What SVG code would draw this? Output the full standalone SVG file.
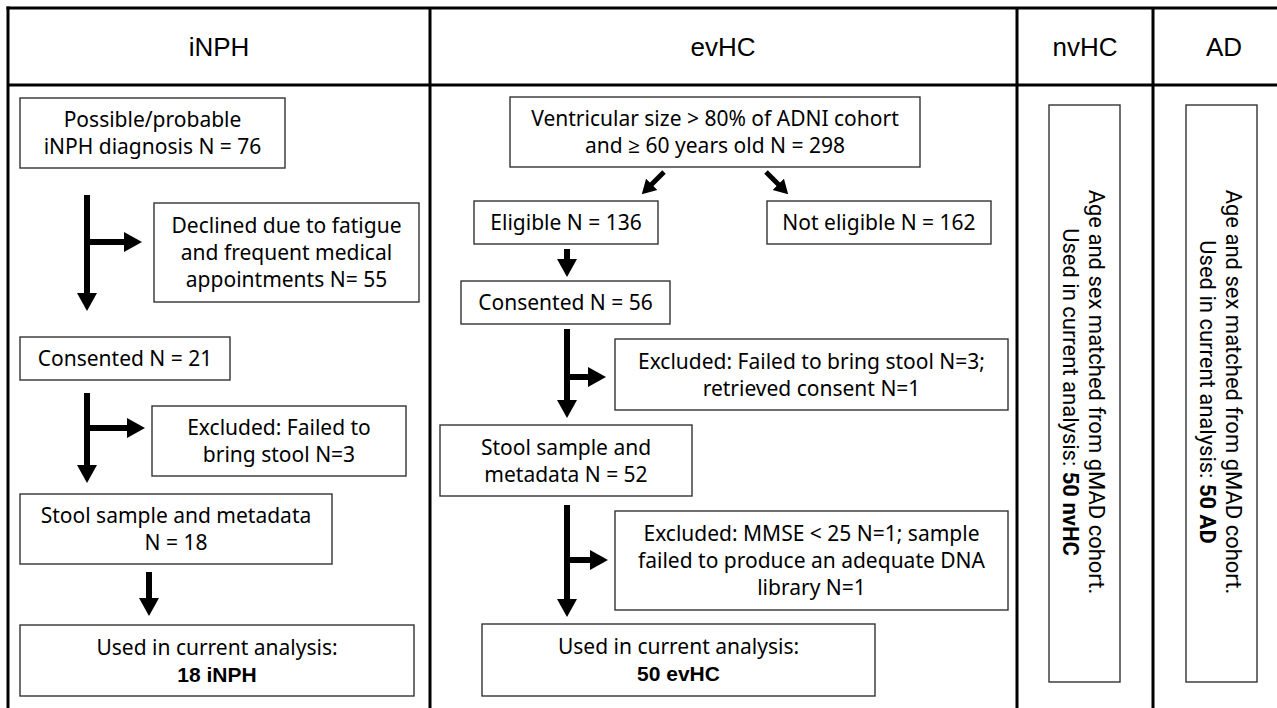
<svg xmlns="http://www.w3.org/2000/svg" width="1277" height="708" viewBox="0 0 1277 708">
<style>
.frame{stroke:#000;stroke-width:3;fill:none}
.box{fill:#fff;stroke:#333;stroke-width:1.4}
.hd{font-family:"Liberation Sans",Arial,sans-serif;font-size:26px;text-anchor:middle;fill:#000}
.t{font-family:"Noto Sans","Open Sans",sans-serif;font-size:21px;text-anchor:middle;fill:#000}
.bd{font-family:"Liberation Sans",Arial,sans-serif;font-weight:bold}
.rt{font-family:Roboto,"Liberation Sans",sans-serif;font-size:22px;text-anchor:middle;fill:#000}
.rb{font-weight:bold}
.sh{stroke:#000;stroke-width:6;fill:none}
.sh2{stroke:#000;stroke-width:5;fill:none}
</style>
<defs>
<marker id="ah" markerUnits="userSpaceOnUse" markerWidth="20" markerHeight="22" refX="1" refY="11" orient="auto">
<path d="M0,1 L18,11 L0,21 Z" fill="#000"/>
</marker>
<marker id="ahs" markerUnits="userSpaceOnUse" markerWidth="16" markerHeight="18" refX="1" refY="9" orient="auto">
<path d="M0,1 L14,9 L0,17 Z" fill="#000"/>
</marker>
</defs>
<rect width="1277" height="708" fill="#fff"/>
<g id="frame">
<line class="frame" x1="6.5" y1="8" x2="1277" y2="8"/>
<line class="frame" x1="8" y1="85" x2="1277" y2="85"/>
<line class="frame" x1="8" y1="6.5" x2="8" y2="708"/>
<line class="frame" x1="430" y1="8" x2="430" y2="708"/>
<line class="frame" x1="1017" y1="8" x2="1017" y2="708"/>
<line class="frame" x1="1153" y1="8" x2="1153" y2="708"/>
<text class="hd" x="219" y="56">iNPH</text>
<text class="hd" x="723" y="56">evHC</text>
<text class="hd" x="1085" y="56">nvHC</text>
<text class="hd" x="1224" y="56">AD</text>
</g>
<g id="connectors">
<line class="sh" x1="87" y1="195" x2="87" y2="294" marker-end="url(#ah)"/>
<line class="sh" x1="87" y1="242" x2="125" y2="242" marker-end="url(#ah)"/>
<line class="sh" x1="87" y1="393" x2="87" y2="466" marker-end="url(#ah)"/>
<line class="sh" x1="87" y1="428" x2="128" y2="428" marker-end="url(#ah)"/>
<line class="sh" x1="149" y1="572" x2="149" y2="599" marker-end="url(#ah)"/>
<line class="sh2" x1="664" y1="172" x2="651" y2="185" marker-end="url(#ahs)"/>
<line class="sh2" x1="766" y1="172" x2="779" y2="185" marker-end="url(#ahs)"/>
<line class="sh" x1="567" y1="249" x2="567" y2="260" marker-end="url(#ah)"/>
<line class="sh" x1="567" y1="329" x2="567" y2="401" marker-end="url(#ah)"/>
<line class="sh" x1="567" y1="377" x2="589" y2="377" marker-end="url(#ah)"/>
<line class="sh" x1="567" y1="505" x2="567" y2="600" marker-end="url(#ah)"/>
<line class="sh" x1="567" y1="560" x2="591" y2="560" marker-end="url(#ah)"/>
</g>
<g id="inph1"><rect class="box" x="20" y="98" width="265" height="70"/>
<text class="t" x="152.5" y="127">Possible/probable</text><text class="t" x="152.5" y="154">iNPH diagnosis N = 76</text></g>
<g id="inph2"><rect class="box" x="154" y="203" width="265" height="99"/>
<text class="t" x="286.5" y="233">Declined due to fatigue</text><text class="t" x="286.5" y="260">and frequent medical</text><text class="t" x="286.5" y="287">appointments N= 55</text></g>
<g id="inph3"><rect class="box" x="20" y="337" width="210" height="43"/>
<text class="t" x="125" y="366">Consented N = 21</text></g>
<g id="inph4"><rect class="box" x="152" y="406" width="254" height="70"/>
<text class="t" x="279" y="435">Excluded: Failed to</text><text class="t" x="279" y="462">bring stool N=3</text></g>
<g id="inph5"><rect class="box" x="20" y="494" width="312" height="70"/>
<text class="t" x="176" y="523">Stool sample and metadata</text><text class="t" x="176" y="550">N = 18</text></g>
<g id="inph6"><rect class="box" x="20" y="625" width="394" height="71"/>
<text class="t" x="217" y="654.5">Used in current analysis:</text><text class="t bd" x="217" y="681.5">18 iNPH</text></g>
<g id="ev1"><rect class="box" x="510" y="97" width="410" height="70"/>
<text class="t" x="715" y="126">Ventricular size &gt; 80% of ADNI cohort</text><text class="t" x="715" y="153">and ≥ 60 years old N = 298</text></g>
<g id="ev2"><rect class="box" x="474" y="201" width="184" height="43"/>
<text class="t" x="566" y="230">Eligible N = 136</text></g>
<g id="ev3"><rect class="box" x="767" y="201" width="224" height="43"/>
<text class="t" x="879" y="230">Not eligible N = 162</text></g>
<g id="ev4"><rect class="box" x="461" y="281" width="209" height="43"/>
<text class="t" x="565.5" y="310">Consented N = 56</text></g>
<g id="ev5"><rect class="box" x="615" y="339" width="393" height="71"/>
<text class="t" x="811.5" y="368.5">Excluded: Failed to bring stool N=3;</text><text class="t" x="811.5" y="395.5">retrieved consent N=1</text></g>
<g id="ev6"><rect class="box" x="440" y="425" width="252" height="71"/>
<text class="t" x="566" y="454.5">Stool sample and</text><text class="t" x="566" y="481.5">metadata N = 52</text></g>
<g id="ev7"><rect class="box" x="615" y="511" width="393" height="99"/>
<text class="t" x="811.5" y="541">Excluded: MMSE &lt; 25 N=1; sample</text><text class="t" x="811.5" y="568">failed to produce an adequate DNA</text><text class="t" x="811.5" y="595">library N=1</text></g>
<g id="ev8"><rect class="box" x="482" y="624" width="393" height="72"/>
<text class="t" x="678.5" y="654">Used in current analysis:</text><text class="t bd" x="678.5" y="681">50 evHC</text></g>
<g id="nvhc"><rect class="box" x="1049" y="105" width="71" height="577"/>
<g transform="translate(1084.5,392) rotate(90)">
<text class="rt" x="0" y="-4.5">Age and sex matched from gMAD cohort.</text>
<text class="rt" x="0" y="21.5">Used in current analysis: <tspan class="rb">50 nvHC</tspan></text></g></g>
<g id="ad"><rect class="box" x="1186" y="105" width="71" height="577"/>
<g transform="translate(1221.5,392) rotate(90)">
<text class="rt" x="0" y="-4.5">Age and sex matched from gMAD cohort.</text>
<text class="rt" x="0" y="21.5">Used in current analysis: <tspan class="rb">50 AD</tspan></text></g></g>
</svg>
